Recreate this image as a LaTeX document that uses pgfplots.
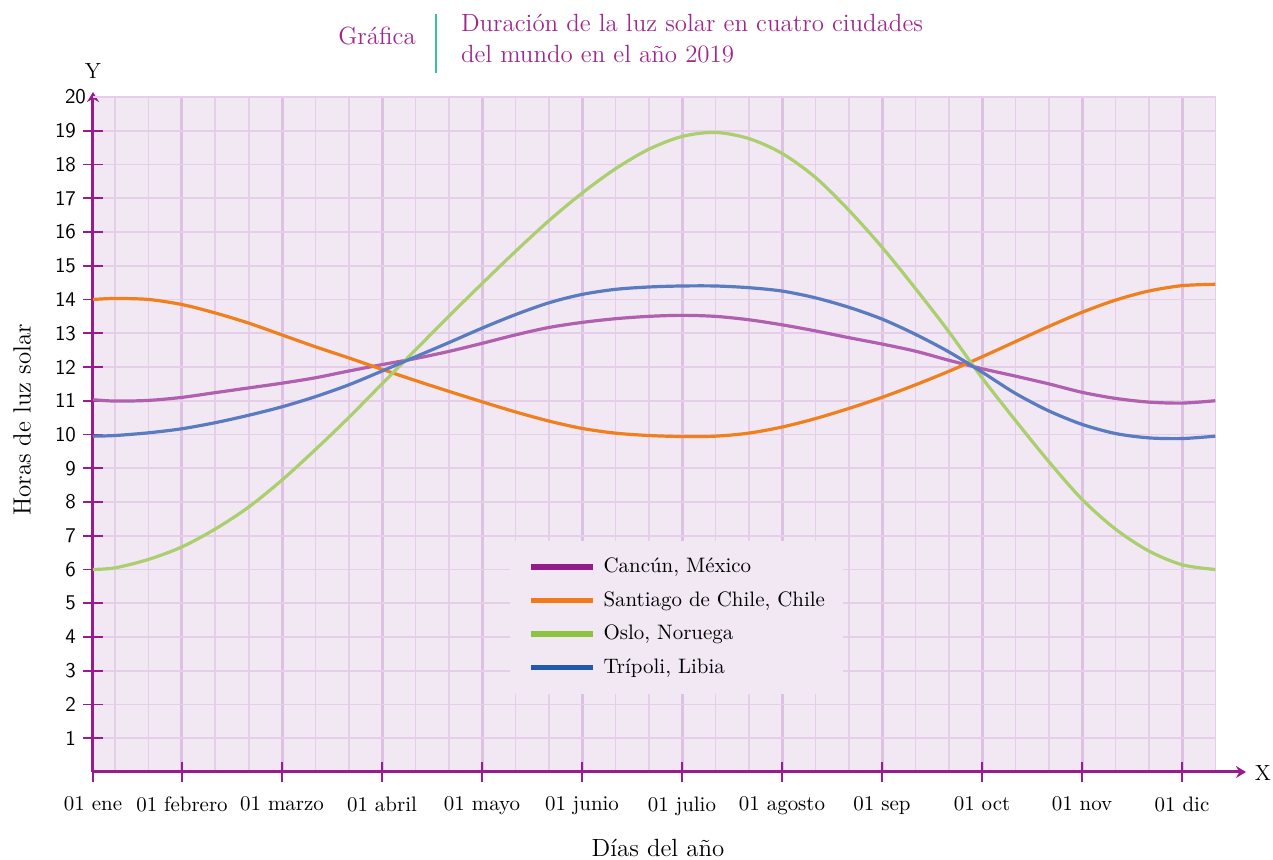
\documentclass[border=0pt]{standalone}
\usepackage{pgfplots}
\pgfplotsset{compat=1.18}
\usepackage{pgfplotstable}
\usetikzlibrary{arrows.meta}

\definecolor{bgc}{HTML}{F1E8F4}
\definecolor{minc}{HTML}{E4CEE8}
\definecolor{majc}{HTML}{DCC1E2}
\definecolor{axc}{HTML}{9B1B8E}
\definecolor{titc}{HTML}{A0288C}
\definecolor{sepc}{HTML}{3DBFA3}
% curve colours (lighter) and legend colours (stronger)
\definecolor{cpur}{HTML}{B060AE}
\definecolor{cora}{HTML}{F07F1E}
\definecolor{cgre}{HTML}{ABCF6E}
\definecolor{cblu}{HTML}{5B7BC0}
\definecolor{lpur}{HTML}{931C8B}
\definecolor{lora}{HTML}{F27A1A}
\definecolor{lgre}{HTML}{8CC43F}
\definecolor{lblu}{HTML}{1F5BA8}

% x: months, 01 febrero = 1 ... 01 dic = 11, 01 ene at 0.11
\pgfplotstableread{
u cancun santiago oslo tripoli
0.11  11.03 14.00 6.00 9.95
0.333 10.99 14.03 6.05 9.97
0.667 11.01 14.00 6.30 10.05
1     11.10 13.85 6.67 10.17
1.333 11.24 13.60 7.20 10.35
1.667 11.38 13.30 7.85 10.57
2     11.52 12.95 8.65 10.82
2.333 11.68 12.60 9.55 11.12
2.667 11.88 12.27 10.50 11.47
3     12.07 11.93 11.50 11.88
3.333 12.25 11.60 12.50 12.30
3.667 12.46 11.28 13.50 12.72
4     12.70 10.97 14.47 13.15
4.333 12.95 10.67 15.42 13.55
4.667 13.17 10.40 16.33 13.90
5     13.32 10.18 17.15 14.15
5.333 13.43 10.04 17.87 14.30
5.667 13.50 9.97 18.45 14.37
6     13.53 9.94 18.83 14.40
6.333 13.50 9.95 18.95 14.40
6.667 13.40 10.04 18.77 14.35
7     13.25 10.22 18.33 14.25
7.333 13.07 10.47 17.62 14.05
7.667 12.87 10.77 16.65 13.77
8     12.68 11.10 15.55 13.42
8.333 12.47 11.47 14.33 12.97
8.667 12.20 11.87 13.05 12.45
9     11.95 12.30 11.68 11.85
9.333 11.73 12.75 10.42 11.22
9.667 11.50 13.20 9.20 10.70
10    11.25 13.62 8.08 10.30
10.333 11.07 13.98 7.20 10.03
10.667 10.96 14.25 6.55 9.90
11    10.93 14.41 6.14 9.88
11.333 11.00 14.45 6.00 9.95
}\sol

\begin{document}
\begin{tikzpicture}
\begin{axis}[
  x=50bp, y=16.875bp,
  xmin=0.11, xmax=11.34, ymin=0, ymax=20,
  axis lines=left,
  clip=false,
  axis background/.style={fill=bgc},
  axis line style={line width=1.5bp, color=axc, -{Stealth[length=5bp,width=6bp]}},
  x axis line style={shorten >=-15bp},
  y axis line style={shorten >=-2.5bp},
  tick align=center,
  major tick length=10bp,
  minor tick length=0pt,
  tick style={color=axc, line width=0.9bp},
  xtick={0.11,1,2,3,4,5,6,7,8,9,10,11},
  xticklabels={01 ene,01 febrero,01 marzo,01 abril,01 mayo,01 junio,01 julio,01 agosto,01 sep,01 oct,01 nov,01 dic},
  minor xtick={0.333,0.667,1.333,1.667,2.333,2.667,3.333,3.667,4.333,4.667,5.333,5.667,6.333,6.667,7.333,7.667,8.333,8.667,9.333,9.667,10.333,10.667,11.333},
  ytick={1,...,19},
  extra y ticks={20},
  extra y tick style={major tick length=0pt},
  grid=both,
  major x grid style={color=majc, line width=1.5bp},
  minor x grid style={color=minc, line width=0.8bp},
  major y grid style={color=minc, line width=0.8bp},
  /pgf/number format/assume math mode=true,
  xticklabel style={font=\fontsize{10.5}{12}\selectfont, yshift=-4bp},
  yticklabel style={font=\sffamily\fontsize{10.5}{12}\selectfont},
  legend cell align=left,
  legend image code/.code={\draw[#1] (0bp,0bp) -- (31bp,0bp);},
  legend style={at={(0.3713,0.3435)}, anchor=north west, fill=bgc, draw=none,
    font=\fontsize{10.5}{12}\selectfont, inner xsep=9bp, inner ysep=8bp,
    row sep=6.25bp, column sep=4bp,
    nodes={inner sep=0pt, text height=8bp, text depth=2.5bp}},
]
\addplot[forget plot, smooth, cpur, line width=1.6bp] table[x=u, y=cancun] {\sol};
\addplot[forget plot, smooth, cora, line width=1.6bp] table[x=u, y=santiago] {\sol};
\addplot[forget plot, smooth, cgre, line width=1.6bp] table[x=u, y=oslo] {\sol};
\addplot[forget plot, smooth, cblu, line width=1.6bp] table[x=u, y=tripoli] {\sol};

\addlegendimage{lpur, line width=2.6bp}
\addlegendentry{Cancún, México}
\addlegendimage{lora, line width=2.6bp}
\addlegendentry{Santiago de Chile, Chile}
\addlegendimage{lgre, line width=2.6bp}
\addlegendentry{Oslo, Noruega}
\addlegendimage{lblu, line width=2.6bp}
\addlegendentry{Trípoli, Libia}

% titles and axis names
\node[titc, font=\fontsize{12.5}{15}\selectfont] at (axis cs:2.95,21.81) {Gráfica};
\draw[sepc, line width=0.9bp] (axis cs:3.54,22.45) -- (axis cs:3.54,20.71);
\node[titc, anchor=west, align=left, font=\fontsize{12.5}{16}\selectfont] at (axis cs:3.72,21.73)
  {Duración de la luz solar en cuatro ciudades\\del mundo en el año 2019};
\node[font=\fontsize{11}{13}\selectfont] at (axis cs:0.11,20.77) {Y};
\node[font=\fontsize{11}{13}\selectfont] at (axis cs:11.81,-0.03) {X};
\node[rotate=90, font=\fontsize{12.5}{15}\selectfont] at (axis cs:-0.6,10.43) {Horas de luz solar};
\node[font=\fontsize{12.5}{15}\selectfont] at (axis cs:5.76,-2.25) {Días del año};

\coordinate (bbl) at (axis cs:-0.82,-2.607);
\coordinate (btr) at (axis cs:11.91,22.874);
\end{axis}
\pgfresetboundingbox
\useasboundingbox (bbl) rectangle (btr);
\end{tikzpicture}
\end{document}
